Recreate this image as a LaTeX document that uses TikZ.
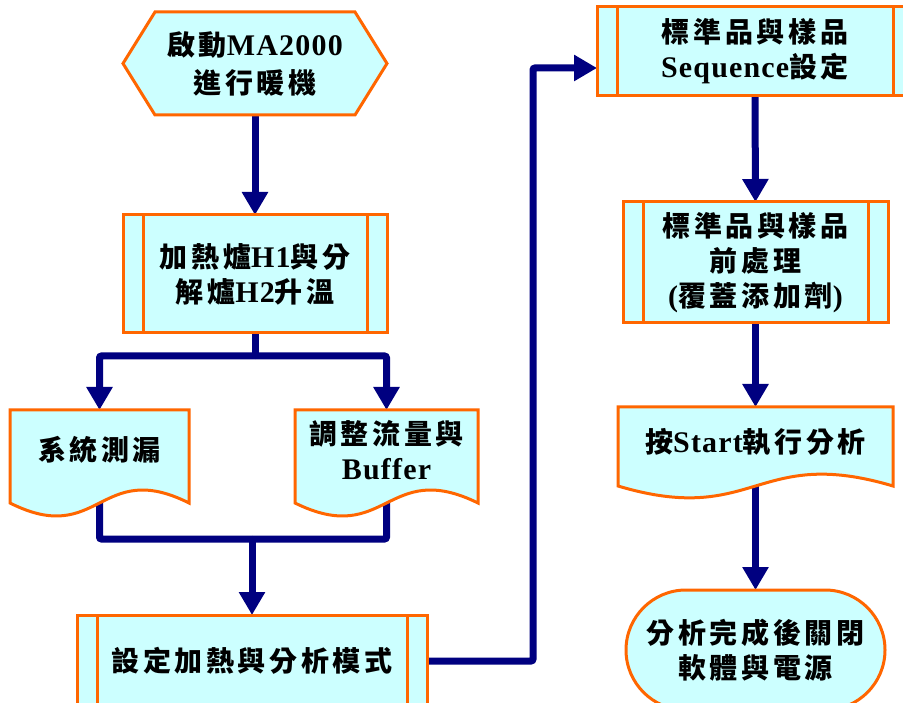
\documentclass[tikz,border=0pt]{standalone}
\usepackage{fontspec}
\setmainfont{Liberation Serif}[Scale=1.07,LetterSpace=4]
\newfontfamily\cjk{Noto Sans CJK TC}[LetterSpace=13]
\usetikzlibrary{arrows.meta}
\newcommand\C[1]{{\cjk #1}}
\definecolor{fillc}{HTML}{CCFFFF}
\definecolor{edgec}{HTML}{FF6600}
\definecolor{navyc}{HTML}{000080}
\pgfdeclarelayer{bg}\pgfdeclarelayer{conn}\pgfdeclarelayer{shape}\pgfsetlayers{bg,conn,shape,main}
\newcommand\sides[1]{\draw[draw=edgec, line width=3pt] ([xshift=20pt]#1.north west) -- ([xshift=20pt]#1.south west) ([xshift=-20pt]#1.north east) -- ([xshift=-20pt]#1.south east);}
\newcommand\docshape[4]{\path[shp] (#1.north west) -- (#1.north east) -- ([yshift=-#3pt]#1.south east) .. controls +(-#2/2,-#4) and +(#2/2,#4) .. ([yshift=-#3pt]#1.south west) -- cycle;}
\begin{document}
\begin{tikzpicture}[x=1pt,y=-1pt,
  txt/.style={font=\bfseries\fontsize{28}{35}\selectfont, align=center, inner sep=0pt, outer sep=0pt},
  shp/.style={fill=fillc, draw=edgec, line width=3pt},
  proc/.style={txt, shp},
  conn/.style={draw=navyc, line width=7pt, rounded corners=2pt},
  arr/.style={conn, -{Triangle[width=25pt,length=23pt]}}
]
\useasboundingbox (0,0) rectangle (903,703);
\begin{pgfonlayer}{bg}
\fill[white] (0,0) rectangle (903,703);
\end{pgfonlayer}

% nodes
\node[txt, minimum width=264pt, minimum height=103pt] (hex) at (255,63.5) {\C{啟動}MA2000\\[3pt]\C{進行暖機}};
\node[proc, minimum width=264pt, minimum height=118pt] (box2) at (255,274) {\C{加熱爐}H1\C{與分}\\\C{解爐}H2\C{升溫}};
\sides{box2}
\node[txt, minimum width=179pt, minimum height=80pt] (doc1) at (99.5,450) {\C{系統測漏}};
\node[txt, minimum width=183pt, minimum height=80pt] (doc2) at (386.5,450) {\C{調整流量與}\\Buffer};
\node[proc, minimum width=350pt, minimum height=92pt] (box5) at (252,661) {\C{設定加熱與分析模式}};
\sides{box5}
\node[proc, minimum width=316pt, minimum height=89pt] (box6) at (755,51.5) {\C{標準品與樣品}\\Sequence\C{設定}};
\sides{box6}
\node[proc, minimum width=265pt, minimum height=121pt] (box7) at (755.5,262.5) {\C{標準品與樣品}\\\C{前處理}\\(\C{覆蓋添加劑})};
\sides{box7}
\node[txt, minimum width=275pt, minimum height=70pt] (doc8) at (755.5,442) {\C{按}Start\C{執行分析}};
\node[proc, rounded corners=60pt, minimum width=259pt, minimum height=120pt] (term) at (755.5,650) {\C{分析完成後關閉}\\\C{軟體與電源}};

% shapes drawn under the text
\begin{pgfonlayer}{shape}
\path[shp] (hex.west) -- ([xshift=32pt]hex.north west) -- ([xshift=-32pt]hex.north east) -- (hex.east) -- ([xshift=-32pt]hex.south east) -- ([xshift=32pt]hex.south west) -- cycle;
\docshape{doc1}{179}{13}{45}
\docshape{doc2}{183}{13}{45}
\docshape{doc8}{275}{9}{41}
\end{pgfonlayer}

% connectors
\begin{pgfonlayer}{conn}
\coordinate (split) at (255,356);
\coordinate (merge) at (252,539);
\coordinate (up) at (533,68);
\draw[arr] (hex.south) -- (box2.north);
\draw[conn] (box2.south) -- (split);
\draw[arr] (split) -| (doc1.north);
\draw[arr] (split) -| (doc2.north);
\draw[conn] (doc1.south) |- (merge);
\draw[conn] (doc2.south) |- (merge);
\draw[arr] (merge) -- (box5.north);
\draw[arr] (box5.east) -| (up) -- (up -| box6.west);
\draw[arr] (box6.south) -- (box7.north);
\draw[arr] (box7.south) -- (doc8.north);
\draw[arr] (doc8.south) -- (term.north);
\end{pgfonlayer}
\end{tikzpicture}
\end{document}
